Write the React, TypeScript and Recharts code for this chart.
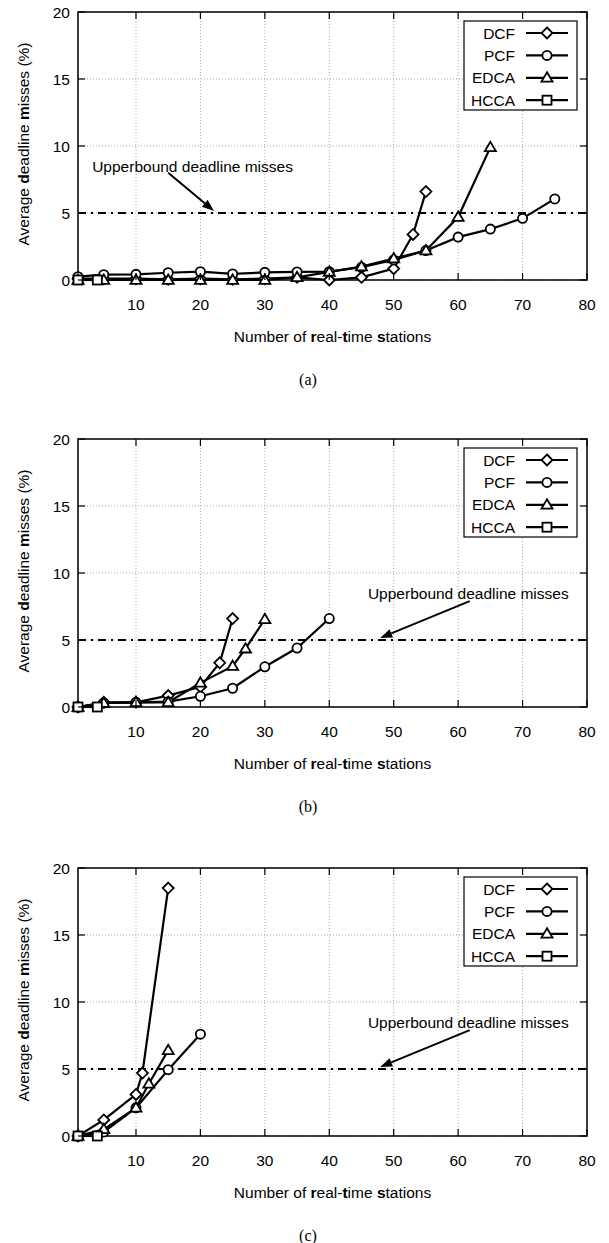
import React from 'react';
import {
    LineChart,
    Line,
    XAxis,
    YAxis,
    CartesianGrid,
    ReferenceLine,
    ReferenceDot,
    ReferenceArea
} from 'recharts';

const xTicks = [10, 20, 30, 40, 50, 60, 70, 80];
const yTicks = [0, 5, 10, 15, 20];
const upperBound = 5;
const seriesNames = ['DCF', 'PCF', 'EDCA', 'HCCA'];

// (a)
const dcfAX = [1, 5, 10, 15, 20, 25, 30, 35, 40, 45, 50, 53, 55];
const dcfAY = [0.1, 0.1, 0.1, 0.05, 0.1, 0.05, 0.1, 0.2, 0, 0.2, 0.85, 3.4, 6.6];
const pcfAX = [1, 5, 10, 15, 20, 25, 30, 35, 40, 45, 50, 55, 60, 65, 70, 75];
const pcfAY = [0.25, 0.4, 0.42, 0.54, 0.62, 0.45, 0.57, 0.6, 0.62, 0.95, 1.5, 2.2, 3.2, 3.8, 4.6, 6.05];
const edcaAX = [1, 5, 10, 15, 20, 25, 30, 35, 40, 45, 50, 55, 60, 65];
const edcaAY = [0, 0, 0, 0, 0, 0, 0, 0.2, 0.6, 1.0, 1.6, 2.2, 4.7, 9.9];
const hccaAX = [1, 4];
const hccaAY = [0, 0];

// (b)
const dcfBX = [1, 5, 10, 15, 20, 23, 25];
const dcfBY = [0, 0.35, 0.35, 0.85, 1.5, 3.3, 6.6];
const pcfBX = [1, 5, 10, 15, 20, 25, 30, 35, 40];
const pcfBY = [0, 0.3, 0.35, 0.4, 0.8, 1.4, 3.0, 4.4, 6.6];
const edcaBX = [1, 5, 10, 15, 20, 25, 27, 30];
const edcaBY = [0, 0.3, 0.35, 0.35, 1.8, 3.05, 4.35, 6.55];
const hccaBX = [1, 4];
const hccaBY = [0, 0];

// (c)
const dcfCX = [1, 5, 10, 11, 15];
const dcfCY = [0, 1.2, 3.1, 4.7, 18.5];
const pcfCX = [1, 5, 10, 15, 20];
const pcfCY = [0, 0.3, 2.1, 4.95, 7.6];
const edcaCX = [1, 5, 10, 12, 15];
const edcaCY = [0, 0.5, 2.1, 3.9, 6.4];
const hccaCX = [1, 4];
const hccaCY = [0, 0];

const font = "'Liberation Sans', Arial, sans-serif";
const W = 609;
const PL = 78;
const PR = 587;
const PT = 12;
const PB = 280;
const CH = 320;

const toPoints = (xs: number[], ys: number[]) => xs.map((x, i) => ({ x, y: ys[i] }));

const Marker = ({ kind, cx, cy }: { kind: string; cx: number; cy: number }) => {
    const st = { fill: '#fff', stroke: '#000', strokeWidth: 1.8 };
    if (kind === 'DCF') {
        const s = 5.5;
        return <polygon points={`${cx},${cy - s} ${cx + s},${cy} ${cx},${cy + s} ${cx - s},${cy}`} {...st} />;
    }
    if (kind === 'PCF') return <circle cx={cx} cy={cy} r={4.6} {...st} />;
    if (kind === 'EDCA') {
        return <polygon points={`${cx},${cy - 5.5} ${cx + 5.5},${cy + 3.8} ${cx - 5.5},${cy + 3.8}`} {...st} />;
    }
    return <rect x={cx - 4.5} y={cy - 4.5} width={9} height={9} {...st} />;
};

const XTick = ({ x, payload }: any) => (
    <g>
        <line x1={x} x2={x} y1={PB} y2={PB - 7} stroke="#000" strokeWidth={1.2} />
        <line x1={x} x2={x} y1={PT} y2={PT + 7} stroke="#000" strokeWidth={1.2} />
        <text x={x} y={PB + 24} textAnchor="middle" dominantBaseline="central" fontSize={15.5} fontFamily={font} fill="#000">
            {payload.value}
        </text>
    </g>
);

const YTick = ({ y, payload }: any) => (
    <g>
        <line x1={PL} x2={PL + 7} y1={y} y2={y} stroke="#000" strokeWidth={1.2} />
        <line x1={PR} x2={PR - 7} y1={y} y2={y} stroke="#000" strokeWidth={1.2} />
        <text x={70} y={y} textAnchor="end" dominantBaseline="central" fontSize={15.5} fontFamily={font} fill="#000">
            {payload.value}
        </text>
    </g>
);

const Arrow = (props: any) => {
    const { x1, y1, x2, y2 } = props;
    const ang = Math.atan2(y2 - y1, x2 - x1);
    const len = 12;
    const hw = 4.5;
    const bx = x2 - len * Math.cos(ang);
    const by = y2 - len * Math.sin(ang);
    const px = -Math.sin(ang) * hw;
    const py = Math.cos(ang) * hw;
    return (
        <g>
            <line x1={x1} y1={y1} x2={bx} y2={by} stroke="#000" strokeWidth={2} />
            <polygon points={`${x2},${y2} ${bx + px},${by + py} ${bx - px},${by - py}`} fill="#000" />
        </g>
    );
};

const NoteText = (props: any) => (
    <text x={props.cx} y={props.cy} dominantBaseline="central" fontSize={15.5} fontFamily={font} fill="#000">
        Upperbound deadline misses
    </text>
);

type Series = { name: string; xs: number[]; ys: number[] };
type Note = { tx: number; ty: number; from: { x: number; y: number }; to: { x: number; y: number } };

function Panel({ top, series, caption, note }: { top: number; series: Series[]; caption: string; note: Note }) {
    return (
        <div style={{ position: 'absolute', left: 0, top, width: W, height: 430 }}>
            <LineChart width={W} height={CH} margin={{ top: PT, right: W - PR, left: 0, bottom: 0 }}>
                <CartesianGrid stroke="#aaa" strokeDasharray="1 2" />
                <XAxis
                    dataKey="x"
                    type="number"
                    domain={[1, 80]}
                    ticks={xTicks}
                    height={CH - PB}
                    axisLine={false}
                    tickLine={false}
                    tick={<XTick />}
                />
                <YAxis
                    type="number"
                    domain={[0, 20]}
                    ticks={yTicks}
                    width={PL}
                    axisLine={false}
                    tickLine={false}
                    tick={<YTick />}
                />
                <ReferenceArea x1={1} x2={80} y1={0} y2={20} fill="none" stroke="#000" strokeWidth={1.5} />
                <ReferenceLine y={upperBound} stroke="#000" strokeWidth={2.2} strokeDasharray="8 5 2 5" />
                <ReferenceLine segment={[note.from, note.to]} shape={<Arrow />} />
                <ReferenceDot x={note.tx} y={note.ty} r={0} shape={<NoteText />} />
                {series.map((s) => (
                    <Line
                        key={s.name}
                        data={toPoints(s.xs, s.ys)}
                        dataKey="y"
                        name={s.name}
                        type="linear"
                        stroke="#000"
                        strokeWidth={2.2}
                        dot={(p: any) => <Marker key={`${s.name}-${p.index}`} kind={s.name} cx={p.cx} cy={p.cy} />}
                        isAnimationActive={false}
                    />
                ))}
            </LineChart>
            <svg style={{ position: 'absolute', left: 0, top: 0 }} width={W} height={CH} pointerEvents="none">
                <rect x={464} y={21} width={113} height={89} fill="#fff" stroke="#000" strokeWidth={1.2} />
                {seriesNames.map((n, i) => {
                    const y = 33 + i * 22.4;
                    return (
                        <g key={n}>
                            <text x={515} y={y} textAnchor="end" dominantBaseline="central" fontSize={15.5} fontFamily={font} fill="#000">
                                {n}
                            </text>
                            <line x1={526} x2={568} y1={y} y2={y} stroke="#000" strokeWidth={2.2} />
                            <Marker kind={n} cx={547} cy={y} />
                        </g>
                    );
                })}
            </svg>
            <div
                style={{
                    position: 'absolute',
                    left: 24,
                    top: 144,
                    transform: 'translate(-50%, -50%) rotate(-90deg)',
                    whiteSpace: 'nowrap',
                    fontFamily: font,
                    fontSize: 15.5
                }}
            >
                Average <b>d</b>eadline <b>m</b>isses (%)
            </div>
            <div
                style={{
                    position: 'absolute',
                    left: (PL + PR) / 2,
                    top: PB + 57,
                    transform: 'translate(-50%, -50%)',
                    whiteSpace: 'nowrap',
                    fontFamily: font,
                    fontSize: 15.5
                }}
            >
                Number of <b>r</b>eal-<b>t</b>ime <b>s</b>tations
            </div>
            <div
                style={{
                    position: 'absolute',
                    left: 308,
                    top: PB + 100,
                    transform: 'translate(-50%, -50%)',
                    whiteSpace: 'nowrap',
                    fontFamily: "'Liberation Serif', 'Times New Roman', serif",
                    fontSize: 16
                }}
            >
                {caption}
            </div>
        </div>
    );
}

export default function App() {
    const seriesA: Series[] = [
        { name: 'DCF', xs: dcfAX, ys: dcfAY },
        { name: 'PCF', xs: pcfAX, ys: pcfAY },
        { name: 'EDCA', xs: edcaAX, ys: edcaAY },
        { name: 'HCCA', xs: hccaAX, ys: hccaAY }
    ];
    const seriesB: Series[] = [
        { name: 'DCF', xs: dcfBX, ys: dcfBY },
        { name: 'PCF', xs: pcfBX, ys: pcfBY },
        { name: 'EDCA', xs: edcaBX, ys: edcaBY },
        { name: 'HCCA', xs: hccaBX, ys: hccaBY }
    ];
    const seriesC: Series[] = [
        { name: 'DCF', xs: dcfCX, ys: dcfCY },
        { name: 'PCF', xs: pcfCX, ys: pcfCY },
        { name: 'EDCA', xs: edcaCX, ys: edcaCY },
        { name: 'HCCA', xs: hccaCX, ys: hccaCY }
    ];
    const noteA: Note = { tx: 3.2, ty: 8.45, from: { x: 15, y: 8.0 }, to: { x: 22.1, y: 5.15 } };
    const noteBC: Note = { tx: 46, ty: 8.5, from: { x: 61.8, y: 7.9 }, to: { x: 47.9, y: 5.15 } };
    return (
        <div style={{ position: 'absolute', left: 0, top: 0, width: W, height: 1243, background: '#fff' }}>
            <Panel top={0} series={seriesA} caption="(a)" note={noteA} />
            <Panel top={427} series={seriesB} caption="(b)" note={noteBC} />
            <Panel top={856} series={seriesC} caption="(c)" note={noteBC} />
        </div>
    );
}
